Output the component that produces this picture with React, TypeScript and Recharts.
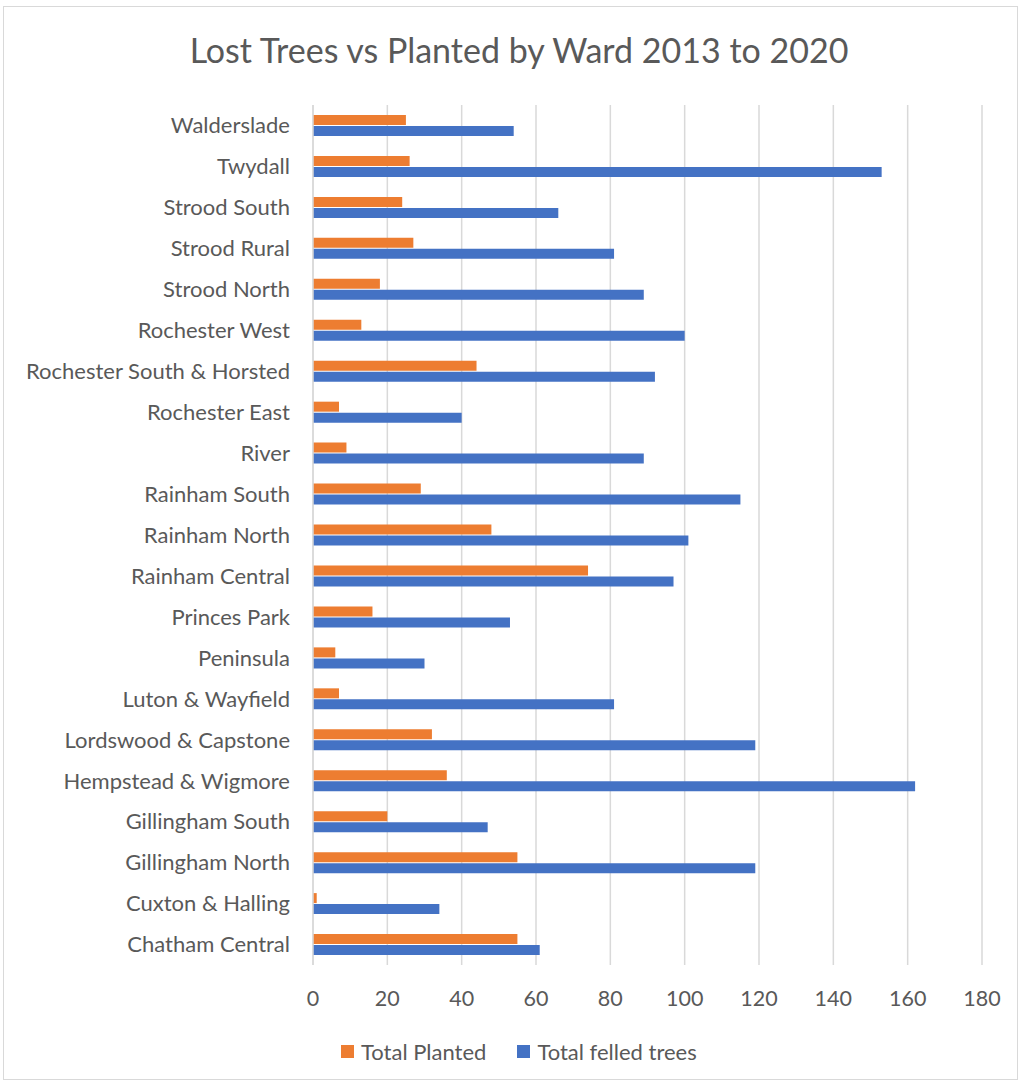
import React from "react";
import { BarChart, Bar, XAxis, YAxis, CartesianGrid, Legend } from "recharts";

const wards = [
  "Walderslade",
  "Twydall",
  "Strood South",
  "Strood Rural",
  "Strood North",
  "Rochester West",
  "Rochester South & Horsted",
  "Rochester East",
  "River",
  "Rainham South",
  "Rainham North",
  "Rainham Central",
  "Princes Park",
  "Peninsula",
  "Luton & Wayfield",
  "Lordswood & Capstone",
  "Hempstead & Wigmore",
  "Gillingham South",
  "Gillingham North",
  "Cuxton & Halling",
  "Chatham Central",
];

const planted = [25, 26, 24, 27, 18, 13, 44, 7, 9, 29, 48, 74, 16, 6, 7, 32, 36, 20, 55, 1, 55];
const felled = [54, 153, 66, 81, 89, 100, 92, 40, 89, 115, 101, 97, 53, 30, 81, 119, 162, 47, 119, 34, 61];

const xTicks = [0, 20, 40, 60, 80, 100, 120, 140, 160, 180];

const FONT = "Lato, 'Open Sans', sans-serif";
const TEXT = "#595959";
const ORANGE = "#ED7D31";
const BLUE = "#4472C4";

const data = wards.map((ward, i) => ({
  ward,
  planted: planted[i],
  felled: felled[i],
}));

function LegendContent() {
  const items = [
    { label: "Total Planted", color: ORANGE },
    { label: "Total felled trees", color: BLUE },
  ];
  return (
    <div style={{ height: 45, display: "flex", justifyContent: "flex-start", paddingLeft: 341, fontFamily: FONT, fontSize: 22, color: TEXT }}>
      {items.map((it) => (
        <div key={it.label} style={{ display: "flex", alignItems: "center", height: 24, marginRight: 31 }}>
          <span style={{ display: "inline-block", width: 13, height: 13, background: it.color, marginRight: 7 }} />
          <span>{it.label}</span>
        </div>
      ))}
    </div>
  );
}

export default function App() {
  return (
    <div style={{ position: "absolute", left: 0, top: 0, width: 1022, height: 1084, background: "#fff" }}>
      <div
        style={{
          position: "absolute",
          left: 3,
          top: 6,
          width: 1015,
          height: 1074,
          border: "1px solid #d9d9d9",
          boxSizing: "border-box",
        }}
      />
      <div
        style={{
          position: "absolute",
          top: 28,
          left: 0,
          width: 1038,
          textAlign: "center",
          fontFamily: FONT,
          fontSize: 34,
          color: TEXT,
          lineHeight: "44px",
        }}
      >
        Lost Trees vs Planted by Ward 2013 to 2020
      </div>
      <div style={{ position: "absolute", left: 0, top: 0 }}>
        <BarChart
          width={1022}
          height={1084}
          data={data}
          layout="vertical"
          margin={{ top: 105, right: 40, bottom: 0, left: 0 }}
          barSize={10}
          barGap={1}
        >
          <CartesianGrid horizontal={false} stroke="#d9d9d9" strokeWidth={1.5} />
          <XAxis
            type="number"
            domain={[0, 180]}
            ticks={xTicks}
            axisLine={false}
            tickLine={false}
            tickSize={0}
            tickMargin={26}
            height={74}
            tick={{ fill: TEXT, fontSize: 21.5, fontFamily: FONT }}
          />
          <YAxis
            type="category"
            dataKey="ward"
            width={313}
            axisLine={{ stroke: "#d9d9d9", strokeWidth: 1.5 }}
            tickLine={false}
            tickSize={0}
            tickMargin={23}
            interval={0}
            tick={{ fill: TEXT, fontSize: 22, fontFamily: FONT }}
          />
          <Legend verticalAlign="bottom" content={<LegendContent />} />
          <Bar dataKey="planted" name="Total Planted" fill={ORANGE} isAnimationActive={false} />
          <Bar dataKey="felled" name="Total felled trees" fill={BLUE} isAnimationActive={false} />
        </BarChart>
      </div>
    </div>
  );
}
